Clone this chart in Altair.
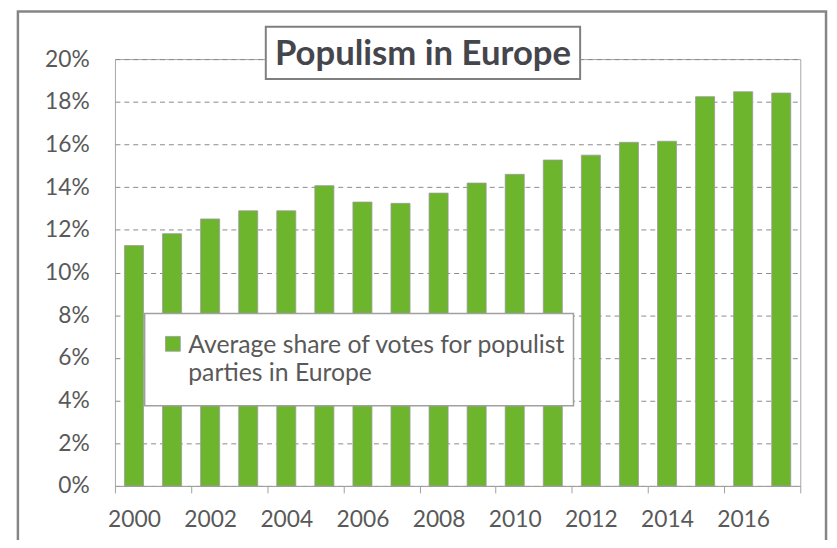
import altair as alt
import pandas as pd

# ---- data ----
years = list(range(2000, 2018))
share = [11.26, 11.82, 12.51, 12.89, 12.89, 14.07, 13.30, 13.24, 13.72,
         14.19, 14.60, 15.27, 15.50, 16.10, 16.15, 18.24, 18.47, 18.41]
y_ticks = list(range(0, 21, 2))
x_tick_positions = [y - 0.5 for y in range(2000, 2019, 2)]
title_text = "Populism in Europe"
legend_lines = ["Average share of votes for populist", "parties in Europe"]

GREEN = "#6cb52d"
GRAY_TEXT = "#595959"
FONT = "Lato"

df = pd.DataFrame({"year": years, "share": share})

W, H = 692, 431
band = W / len(years)

x_scale = alt.Scale(domain=[1999.5, 2017.5], nice=False, zero=False)
y_scale = alt.Scale(domain=[0, 20], nice=False)

bars = (
    alt.Chart(df)
    .transform_calculate(x0="datum.year - 0.25", x1="datum.year + 0.25")
    .mark_bar(color=GREEN, stroke="#9c9c9c", strokeWidth=0.8)
    .encode(
        x=alt.X(
            "x0:Q",
            scale=x_scale,
            title=None,
            axis=alt.Axis(
                values=x_tick_positions,
                labelExpr="datum.value < 2017 ? format(datum.value + 0.5, 'd') : ''",
                labelOffset=band / 2,
                labelFlush=False,
                labelOverlap=False,
                labelFontSize=23,
                labelColor=GRAY_TEXT,
                labelPadding=16,
                tickSize=7,
                tickColor="#a0a0a0",
                domainColor="#a0a0a0",
                grid=False,
            ),
        ),
        x2="x1:Q",
        y=alt.Y(
            "share:Q",
            scale=y_scale,
            title=None,
            axis=alt.Axis(
                values=y_ticks,
                labelExpr="datum.value + '%'",
                labelFontSize=23,
                labelColor=GRAY_TEXT,
                labelPadding=26,
                ticks=False,
                tickSize=0,
                domain=False,
                grid=True,
                gridDash=[5, 4],
                gridColor="#8a8a8a",
                gridWidth=1,
            ),
        ),
        y2=alt.datum(0),
    )
)

one = alt.Data(values=[{}])

frame = alt.Chart(one).mark_rect(fill=None, stroke="#858585", strokeWidth=2.5).encode(
    x=alt.value(-98), x2=alt.value(718), y=alt.value(-48), y2=alt.value(540)
)

title_box = alt.Chart(one).mark_rect(fill="white", stroke="#7f7f7f", strokeWidth=2).encode(
    x=alt.value(152.3), x2=alt.value(469.7), y=alt.value(-32.7), y2=alt.value(20)
)
title_mark = alt.Chart(one).mark_text(
    text=title_text, font=FONT, fontSize=35, fontWeight="bold", color="#45454c",
    align="center", baseline="alphabetic"
).encode(x=alt.value(311), y=alt.value(5.5))

legend_box = alt.Chart(one).mark_rect(fill="white", stroke="#a0a0a0", strokeWidth=1.5).encode(
    x=alt.value(30), x2=alt.value(463), y=alt.value(257), y2=alt.value(350)
)
legend_swatch = alt.Chart(one).mark_rect(fill=GREEN, stroke="#9c9c9c", strokeWidth=0.8).encode(
    x=alt.value(51), x2=alt.value(66), y=alt.value(280), y2=alt.value(295)
)
legend_label = alt.Chart(one).mark_text(
    text=legend_lines, font=FONT, fontSize=25, color=GRAY_TEXT,
    align="left", baseline="alphabetic", lineHeight=29
).encode(x=alt.value(74), y=alt.value(296.5))

chart = (
    alt.layer(frame, bars, legend_box, legend_swatch, legend_label, title_box, title_mark)
    .properties(
        width=W,
        height=H,
        autosize=alt.AutoSizeParams(type="none"),
        padding={"left": 108, "top": 49, "right": 29, "bottom": 52},
    )
    .configure(font=FONT)
    .configure_view(stroke="#a6a6a6", strokeWidth=1)
)

chart.save("out.html", embed_options={"renderer": "svg", "actions": False})
